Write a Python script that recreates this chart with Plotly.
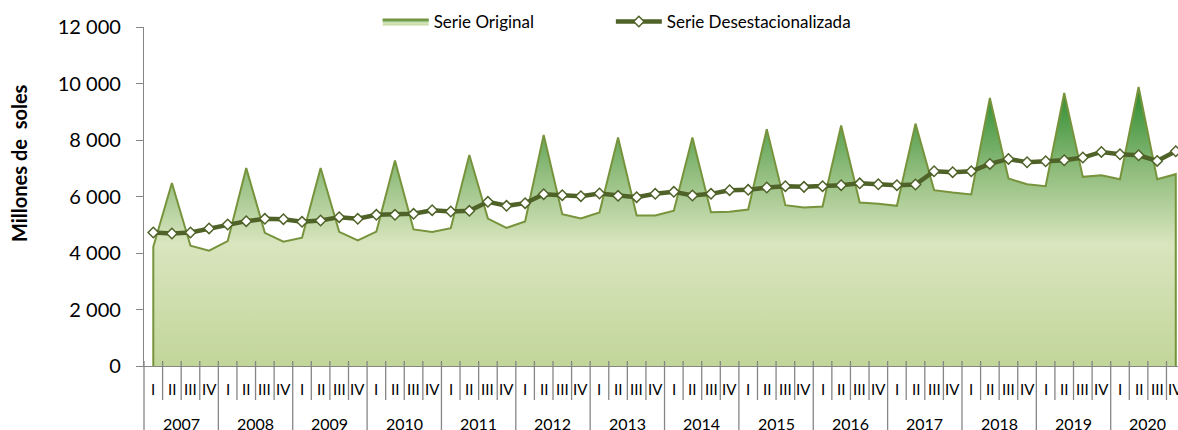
import plotly.graph_objects as go

# ---------------- data ----------------
years = ["2007", "2008", "2009", "2010", "2011", "2012", "2013",
         "2014", "2015", "2016", "2017", "2018", "2019", "2020"]
quarters = ["I", "II", "III", "IV"]

serie_original = [
    4220, 6480, 4255, 4080,
    4420, 7010, 4715, 4400,
    4540, 7010, 4750, 4445,
    4760, 7270, 4835, 4740,
    4880, 7470, 5220, 4890,
    5115, 8180, 5375, 5220,
    5435, 8085, 5330, 5330,
    5495, 8085, 5445, 5460,
    5540, 8380, 5695, 5610,
    5645, 8510, 5790, 5745,
    5670, 8580, 6225, 6140,
    6070, 9490, 6635, 6435,
    6365, 9665, 6695, 6755,
    6610, 9875, 6610, 6790,
]

serie_desest = [
    4727, 4691, 4727, 4869,
    5010, 5127, 5210, 5198,
    5104, 5151, 5269, 5210,
    5351, 5351, 5387, 5516,
    5469, 5493, 5811, 5670,
    5764, 6082, 6047, 6011,
    6106, 6024, 5976, 6094,
    6165, 6035, 6094, 6224,
    6235, 6318, 6365, 6341,
    6365, 6400, 6465, 6435,
    6400, 6424, 6895, 6860,
    6895, 7153, 7330, 7213,
    7249, 7284, 7379, 7578,
    7497, 7461, 7260, 7603,
]

y_tickvals = [0, 2000, 4000, 6000, 8000, 10000, 12000]
y_ticktext = ["0", "2 000", "4 000", "6 000", "8 000", "10 000", "12 000"]

# ---------------- figure ----------------
FONT = "Lato, 'Open Sans', sans-serif"
AXIS_COLOR = "#868686"

idx = list(range(len(serie_original)))

fig = go.Figure()

# area (path closed down to zero at both ends so the outline shows the edges)
fig.add_trace(go.Scatter(
    x=[idx[0]] + idx + [idx[-1]],
    y=[0] + serie_original + [0],
    mode="lines",
    name="Serie Original",
    legend="legend",
    fill="tozeroy",
    line=dict(color="#77933c", width=2),
    fillgradient=dict(
        type="vertical",
        colorscale=[[0, "#c2d69a"], [0.44, "#d9e5be"], [0.7, "#8fbc7c"], [1, "#2a8a2c"]],
        start=0,
        stop=max(serie_original),
    ),
    hoverinfo="skip",
))

fig.add_trace(go.Scatter(
    x=idx,
    y=serie_desest,
    mode="lines+markers",
    name="Serie Desestacionalizada",
    legend="legend2",
    line=dict(color="#4f6228", width=4.5),
    marker=dict(symbol="diamond", size=8, color="white",
                line=dict(color="#4f6228", width=1.5)),
))

annotations = []
for i in idx:
    annotations.append(dict(
        x=i, xref="x", y=0, yref="paper", yshift=-23,
        text=quarters[i % 4], showarrow=False,
        xanchor="center", yanchor="middle",
        font=dict(family=FONT, size=15, color="#000000"),
    ))
for j, yr in enumerate(years):
    annotations.append(dict(
        x=4 * j + 1.5, xref="x", y=0, yref="paper", yshift=-57,
        text=yr, showarrow=False,
        xanchor="center", yanchor="middle",
        font=dict(family=FONT, size=16, color="#000000"),
    ))
annotations.append(dict(
    x=-0.1202, xref="paper", y=0.598, yref="paper",
    text="<b>Millones de\u00a0 soles</b>", textangle=-90, showarrow=False,
    xanchor="center", yanchor="middle",
    font=dict(family=FONT, size=20, color="#000000"),
))

shapes = []
for k in range(len(idx) + 1):
    is_year = (k % 4 == 0)
    sh = dict(
        type="line",
        yref="paper", ysizemode="pixel", yanchor=0,
        y0=5, y1=-64 if is_year else -34,
        line=dict(color=AXIS_COLOR, width=1.3),
    )
    if k == 0:
        sh.update(xref="paper", x0=0, x1=0)
    else:
        sh.update(xref="x", x0=k - 0.5, x1=k - 0.5)
    shapes.append(sh)

legend_common = dict(
    orientation="h",
    yanchor="top", y=1.068,
    xanchor="left",
    font=dict(family=FONT, size=17, color="#000000"),
    itemwidth=46,
    bgcolor="rgba(0,0,0,0)",
)

fig.update_layout(
    width=1178, height=430,
    margin=dict(l=144, r=0, t=27, b=64),
    paper_bgcolor="white", plot_bgcolor="white",
    font=dict(family=FONT, color="#000000"),
    showlegend=True,
    legend=dict(legend_common, x=0.226),
    legend2=dict(legend_common, x=0.4515),
    xaxis=dict(
        range=[-0.5, 55.12],
        showgrid=False, zeroline=False,
        showline=True, linecolor=AXIS_COLOR, linewidth=1.3,
        showticklabels=False, ticks="",
        fixedrange=True,
    ),
    yaxis=dict(
        range=[0, 12000],
        tickvals=y_tickvals, ticktext=y_ticktext,
        ticks="outside", ticklen=7, tickwidth=1.3, tickcolor=AXIS_COLOR,
        ticklabelstandoff=11,
        showline=True, linecolor=AXIS_COLOR, linewidth=1.3,
        showgrid=False, zeroline=False,
        tickfont=dict(family=FONT, size=20, color="#000000"),
        fixedrange=True,
    ),
    yaxis2=dict(
        range=[0, 12000], overlaying="y", anchor="x", side="left",
        tickvals=y_tickvals,
        ticks="inside", ticklen=7, tickwidth=1.3, tickcolor=AXIS_COLOR,
        showticklabels=False, showline=False, showgrid=False, zeroline=False,
        fixedrange=True,
    ),
    annotations=annotations,
    shapes=shapes,
)

fig.write_html(
    "out.html",
    config={"displayModeBar": False},
    post_script="document.body.style.margin='0';document.body.style.overflow='hidden';",
)
